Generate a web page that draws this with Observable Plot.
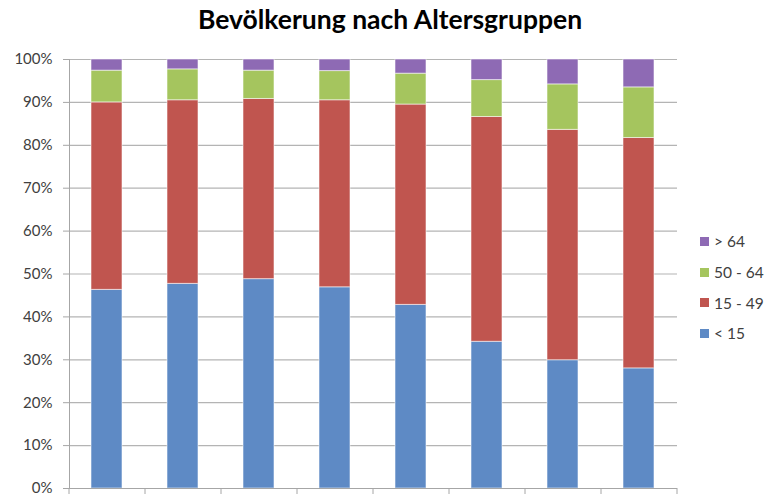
<!DOCTYPE html>
<html><head><meta charset="utf-8">
<script src="https://cdn.jsdelivr.net/npm/d3@7"></script>
<script src="https://cdn.jsdelivr.net/npm/@observablehq/plot@0.6"></script>
<style>
body{margin:0;width:766px;height:495px;overflow:hidden;background:#fff;font-family:Lato,"Open Sans",sans-serif;position:relative}
#title{position:absolute;left:0;top:3px;width:780px;text-align:center;font-weight:700;font-size:26.5px;color:#000}
#chart{position:absolute;left:0;top:40px}
#legend{position:absolute;left:700px;top:226px;font-size:15.5px;color:#404040}
.item{display:flex;align-items:center;height:30.7px}
.sw{width:9px;height:9px;margin-right:5px}
</style></head>
<body>
<div id="title">Bevölkerung nach Altersgruppen</div>
<div id="chart"></div>
<div id="legend"></div>
<script>
const categories = ["1","2","3","4","5","6","7","8"];
const series = ["< 15","15 - 49","50 - 64","> 64"];
const colors = ["#5E8AC5","#C0554F","#A5C55E","#8E6AB4"];
const under15   = [46.3, 47.7, 48.8, 46.9, 42.8, 34.2, 29.9, 28.0];
const age15_49  = [43.7, 42.8, 42.0, 43.6, 46.7, 52.4, 53.7, 53.7];
const age50_64  = [7.4, 7.2, 6.6, 6.8, 7.2, 8.6, 10.6, 11.8];
const over64    = [2.6, 2.3, 2.6, 2.7, 3.3, 4.8, 5.8, 6.5];
const yTicks = [0,10,20,30,40,50,60,70,80,90,100];

const seriesValues = [under15, age15_49, age50_64, over64];
const data = [];
series.forEach((s, si) => categories.forEach((c, ci) => data.push({cat: c, group: s, value: seriesValues[si][ci]})));

const chart = Plot.plot({
  width: 766, height: 455,
  marginTop: 19, marginBottom: 7, marginLeft: 69, marginRight: 89,
  style: {fontFamily: "Lato, 'Open Sans', sans-serif", fontSize: "15px", color: "#404040", background: "transparent"},
  x: {domain: categories, paddingInner: 0.59, paddingOuter: 0.295, axis: null},
  y: {domain: [0, 100], axis: null},
  color: {domain: series, range: colors},
  marks: [
    Plot.gridY(yTicks, {stroke: "#b4b4b4", strokeOpacity: 1, strokeWidth: 1.2}),
    Plot.barY(data, {x: "cat", y: "value", fill: "group", order: series, stroke: "#ffffff", strokeOpacity: 0.55, strokeWidth: 1, inset: 0}),
    Plot.axisY(yTicks, {tickSize: 6, tickPadding: 11, tickFormat: d => d + "%", label: null, stroke: "#a6a6a6", fill: "#404040", fontSize: 15}),
    Plot.frame({anchor: "left", stroke: "#a6a6a6"}),
    Plot.ruleY([0], {stroke: "#a6a6a6"})
  ]
});
document.getElementById("chart").appendChild(chart);

// x-axis tick marks at category boundaries
const sx = chart.scale("x"), sy = chart.scale("y");
const [r0, r1] = sx.range;
const step = (r1 - r0) / categories.length;
const y0 = sy.apply(0);
const g = d3.select(chart).append("g").attr("stroke", "#a6a6a6");
d3.range(categories.length + 1).forEach(i => {
  const x = r0 + i * step;
  g.append("line").attr("x1", x).attr("x2", x).attr("y1", y0).attr("y2", y0 + 6);
});

// legend (top to bottom: reverse order of stack)
const leg = d3.select("#legend");
series.slice().reverse().forEach(s => {
  const it = leg.append("div").attr("class", "item");
  it.append("div").attr("class", "sw").style("background", colors[series.indexOf(s)]);
  it.append("span").text(s);
});
</script>
</body></html>
